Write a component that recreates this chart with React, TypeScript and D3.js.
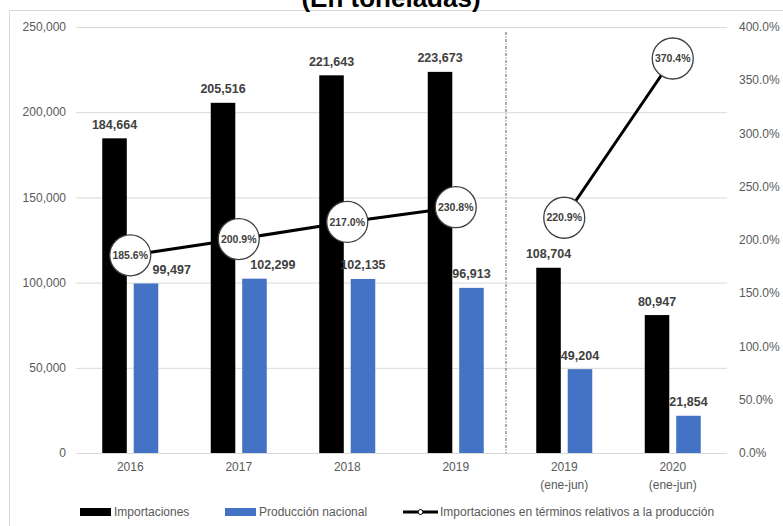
import React from "react";
import * as d3 from "d3";

const categories = ["2016", "2017", "2018", "2019", "2019\n(ene-jun)", "2020\n(ene-jun)"];
const periods = ["anual", "anual", "anual", "anual", "semestral", "semestral"];
const importaciones = [184664, 205516, 221643, 223673, 108704, 80947];
const produccion = [99497, 102299, 102135, 96913, 49204, 21854];
const ratio = [185.6, 200.9, 217.0, 230.8, 220.9, 370.4];
const leftTicks = [0, 50000, 100000, 150000, 200000, 250000];
const rightTicks = [0, 50, 100, 150, 200, 250, 300, 350, 400];
const seriesNames = ["Importaciones", "Producción nacional", "Importaciones en términos relativos a la producción"];
const title = "(En toneladas)";

const W = 783;
const H = 526;
const FONT = "'Liberation Sans', Arial, sans-serif";
const TICK_COLOR = "#595959";
const LABEL_COLOR = "#404040";
const BLUE = "#4472C4";

export default function App() {
  const plotLeft = 76;
  const plotRight = 727;
  const yTop = 27;
  const yBottom = 453;

  const x0 = d3.scaleBand<number>().domain(d3.range(categories.length)).range([plotLeft, plotRight]).padding(0);
  const groupW = 56;
  const x1 = d3.scaleBand<string>().domain(["imp", "prod"]).range([0, groupW]).paddingInner(0.22).paddingOuter(0);
  const yL = d3.scaleLinear().domain([0, 250000]).range([yBottom, yTop]);
  const yR = d3.scaleLinear().domain([0, 400]).range([yBottom, yTop]);
  const fmt = d3.format(",");
  const center = (i: number) => (x0(i) as number) + x0.bandwidth() / 2;
  const groupStart = (i: number) => center(i) - groupW / 2;
  const R = 20.5;
  const clearR = 24;

  const line = d3
    .line<number>()
    .x((i) => center(i))
    .y((i) => yR(ratio[i]));
  const segs = Array.from(d3.group(d3.range(ratio.length), (i) => periods[i]).values());

  const sepX = x0(4) as number;

  const labelWidth = (s: string) => s.length * 6.5;

  return (
    <div style={{ position: "fixed", left: 0, top: 0 }}>
      <svg width={W} height={H} style={{ display: "block", fontFamily: FONT, background: "#fff" }}>
        <rect x={9.5} y={10.5} width={900} height={700} fill="none" stroke="#d9d9d9" />
        <text x={391} y={7} textAnchor="middle" fontSize={26} fontWeight="bold" fill="#000">
          {title}
        </text>

        {leftTicks.map((t) => (
          <g key={"l" + t}>
            <line x1={plotLeft} x2={plotRight} y1={yL(t) + 0.5} y2={yL(t) + 0.5} stroke="#d9d9d9" strokeWidth={1} />
            <text x={66} y={yL(t)} dy="0.35em" textAnchor="end" fontSize={12} fill={TICK_COLOR}>
              {fmt(t)}
            </text>
          </g>
        ))}
        {rightTicks.map((t) => (
          <text key={"r" + t} x={739} y={yR(t)} dy="0.35em" textAnchor="start" fontSize={12} fill={TICK_COLOR}>
            {d3.format(".1f")(t) + "%"}
          </text>
        ))}

        <line x1={sepX - 4} x2={sepX - 4} y1={32} y2={yBottom} stroke="#595959" strokeWidth={1} strokeDasharray="3,1.5,1,1.5" />

        {categories.map((c, i) => (
          <g key={"bars" + i}>
            <rect
              x={groupStart(i) + (x1("imp") as number)}
              y={yL(importaciones[i])}
              width={x1.bandwidth()}
              height={yBottom - yL(importaciones[i])}
              fill="#000"
            />
            <rect
              x={groupStart(i) + (x1("prod") as number)}
              y={yL(produccion[i])}
              width={x1.bandwidth()}
              height={yBottom - yL(produccion[i])}
              fill={BLUE}
            />
          </g>
        ))}

        {categories.map((c, i) => {
          const lines = c.split("\n");
          return (
            <text key={"cat" + i} x={center(i)} y={471} textAnchor="middle" fontSize={12} fill={TICK_COLOR}>
              {lines.map((l, k) => (
                <tspan key={k} x={center(i)} dy={k === 0 ? 0 : 18}>
                  {l}
                </tspan>
              ))}
            </text>
          );
        })}

        {segs.map((idx, k) => (
          <path key={"seg" + k} d={line(idx) || ""} fill="none" stroke="#000" strokeWidth={3} />
        ))}

        {categories.map((c, i) => {
          const bx = groupStart(i) + (x1("imp") as number) + x1.bandwidth() / 2;
          return (
            <text key={"li" + i} x={bx} y={yL(importaciones[i]) - 9.5} textAnchor="middle" fontSize={12.5} fontWeight="bold" fill={LABEL_COLOR}>
              {fmt(importaciones[i])}
            </text>
          );
        })}
        {categories.map((c, i) => {
          const s = fmt(produccion[i]);
          const w = labelWidth(s);
          let cx = groupStart(i) + (x1("prod") as number) + x1.bandwidth() / 2;
          const base = yL(produccion[i]) - 9.5;
          const top = base - 9;
          const circX = center(i);
          const circY = yR(ratio[i]);
          const dy = Math.max(0, top - circY);
          if (dy < clearR) {
            const half = Math.sqrt(clearR * clearR - dy * dy);
            const minLeft = circX + half;
            if (cx - w / 2 < minLeft) cx = minLeft + w / 2;
          }
          return (
            <text key={"lp" + i} x={cx} y={base} textAnchor="middle" fontSize={12.5} fontWeight="bold" fill={LABEL_COLOR}>
              {s}
            </text>
          );
        })}

        {ratio.map((r, i) => (
          <g key={"c" + i}>
            <circle cx={center(i)} cy={yR(r)} r={R} fill="#fff" stroke="#404040" strokeWidth={1.3} />
            <text x={center(i)} y={yR(r)} dy="0.35em" textAnchor="middle" fontSize={10.5} fontWeight="bold" fill={LABEL_COLOR}>
              {d3.format(".1f")(r) + "%"}
            </text>
          </g>
        ))}

        <g fontSize={12} fill={TICK_COLOR}>
          <rect x={80} y={508} width={31} height={8} fill="#000" />
          <text x={114} y={512} dy="0.35em">
            {seriesNames[0]}
          </text>
          <rect x={225} y={508} width={31} height={8} fill={BLUE} />
          <text x={259} y={512} dy="0.35em">
            {seriesNames[1]}
          </text>
          <line x1={403} x2={438} y1={512} y2={512} stroke="#000" strokeWidth={3} />
          <circle cx={420.5} cy={512} r={2.5} fill="#fff" stroke="#000" strokeWidth={1} />
          <text x={440} y={512} dy="0.35em">
            {seriesNames[2]}
          </text>
        </g>
      </svg>
    </div>
  );
}
